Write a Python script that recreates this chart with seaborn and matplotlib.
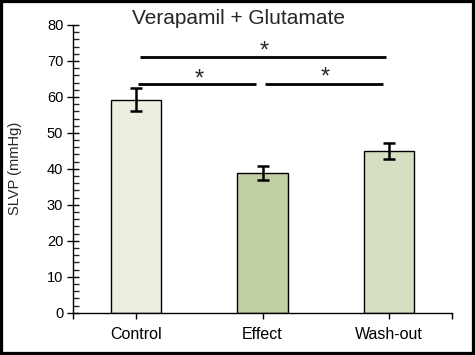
import matplotlib
matplotlib.use("Agg")
import matplotlib.pyplot as plt
import seaborn as sns
import pandas as pd
from matplotlib.patches import Rectangle
from matplotlib.ticker import MultipleLocator

categories = ["Control", "Effect", "Wash-out"]
values = [59.2, 38.8, 45.0]
errors = [3.2, 2.0, 2.3]
bar_colors = ["#EBF1DE", "#C4D79B", "#D7E4BD"]
y_ticks = [0, 10, 20, 30, 40, 50, 60, 70, 80]

sns.set_style("white")
plt.rcParams["font.family"] = ["Liberation Sans", "DejaVu Sans"]

df = pd.DataFrame({"cond": categories, "val": values})

fig = plt.figure(figsize=(4.75, 3.55), dpi=100)
ax = fig.add_axes([73/475, (355-312.7)/355, 379/475, (312.7-25)/355])

sns.barplot(data=df, x="cond", y="val", hue="cond", palette=bar_colors,
            legend=False, width=0.4, edgecolor="black", linewidth=1.0,
            errorbar=None, ax=ax)
ax.errorbar(range(len(categories)), values, yerr=errors, fmt="none",
            ecolor="black", elinewidth=1.8, capsize=4.5, capthick=1.8, zorder=5)

ax.set_ylim(0, 80)
ax.set_xlim(-0.5, 2.5)
ax.set_yticks(y_ticks)
ax.yaxis.set_minor_locator(MultipleLocator(2))
ax.tick_params(axis="y", which="major", direction="inout", length=8, width=1,
               labelsize=10.5, left=True, pad=3, colors="black")
ax.tick_params(axis="y", which="minor", direction="in", length=4, width=1, left=True)
ax.set_xticks([-0.5, 0, 1, 2, 2.5])
ax.set_xticklabels(["", "Control", "Effect", "Wash-out", ""])
ax.tick_params(axis="x", which="major", direction="out", length=4, width=1,
               labelsize=11.5, bottom=True, pad=6, colors="black")
ax.set_xlabel("")
ax.set_ylabel("")
for s in ["top", "right"]:
    ax.spines[s].set_visible(False)
for s in ["left", "bottom"]:
    ax.spines[s].set_color("black")
    ax.spines[s].set_linewidth(1)

# significance brackets
ax.plot([0.03, 1.976], [71.1, 71.1], color="black", lw=2, solid_capstyle="butt")
ax.plot([0.015, 0.946], [63.7, 63.7], color="black", lw=2, solid_capstyle="butt")
ax.plot([1.02, 1.952], [63.7, 63.7], color="black", lw=2, solid_capstyle="butt")
ax.text(1.01, 69.6, "*", ha="center", va="bottom", fontsize=17)
ax.text(0.5, 61.9, "*", ha="center", va="bottom", fontsize=17)
ax.text(1.5, 62.3, "*", ha="center", va="bottom", fontsize=17)

fig.text(238.5/475, (355-24)/355, "Verapamil + Glutamate", ha="center",
         va="baseline", fontsize=15)
fig.text(15/475, (355-168)/355, "SLVP (mmHg)", rotation=90, ha="center",
         va="center", fontsize=10.5)

fig.patches.append(Rectangle((0, 0), 1, 1, transform=fig.transFigure,
                             fill=False, edgecolor="black", linewidth=4.5))

fig.savefig("out.png", dpi=100)
